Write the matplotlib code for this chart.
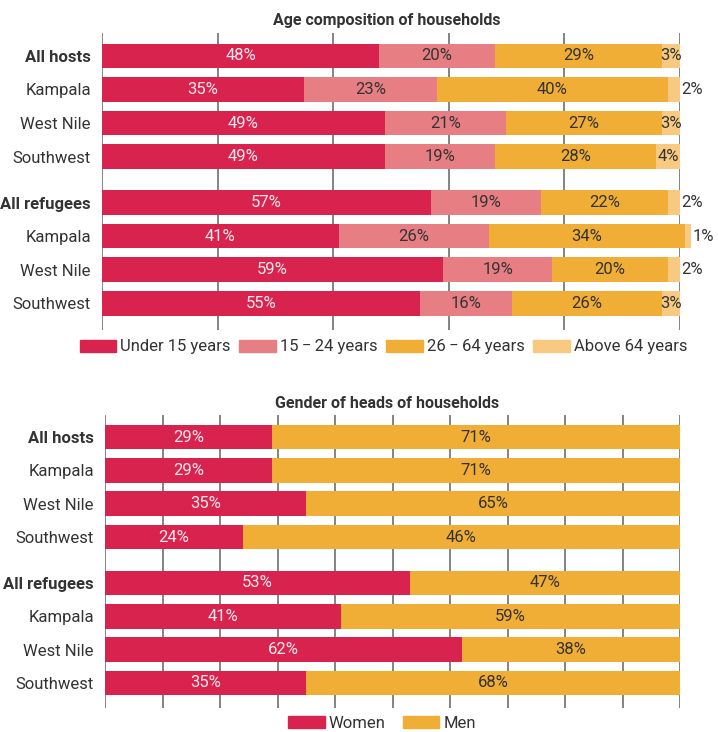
import matplotlib
matplotlib.use("Agg")
import matplotlib.pyplot as plt
from matplotlib.patches import Patch

plt.rcParams['font.family'] = ['Roboto', 'DejaVu Sans']

# ---------------- data ----------------
rows = ["All hosts", "Kampala", "West Nile", "Southwest",
        "All refugees", "Kampala", "West Nile", "Southwest"]
bold_rows = ["All hosts", "All refugees"]

age_series = ["Under 15 years", "15\u2009\u2212\u200924 years", "26\u2009\u2212\u200964 years", "Above 64 years"]
age_under15 = [48, 35, 49, 49, 57, 41, 59, 55]
age_15_24 = [20, 23, 21, 19, 19, 26, 19, 16]
age_26_64 = [29, 40, 27, 28, 22, 34, 20, 26]
age_above64 = [3, 2, 3, 4, 2, 1, 2, 3]

gender_series = ["Women", "Men"]
women = [29, 29, 35, 24, 53, 41, 62, 35]
men_labels = [71, 71, 65, 46, 47, 59, 38, 68]

# ---------------- style ----------------
C_RED = "#D8234F"
C_PINK = "#E77E83"
C_ORANGE = "#F1AE36"
C_LIGHT = "#F8CA81"
TXT_DARK = "#333333"
TXT_LIGHT = "#FBE9EC"
GRID = "#7a7a7a"

W, H = 718, 732
fig = plt.figure(figsize=(W / 100, H / 100), dpi=100)


def px_axes(left, right, top, bottom):
    return fig.add_axes([left / W, 1 - bottom / H, (right - left) / W, (bottom - top) / H])


positions = [0, 1, 2, 3, 4.37, 5.37, 6.37, 7.37]
FS = 12


def setup(ax, ticks, ylim):
    ax.set_xlim(0, 100)
    ax.set_ylim(*ylim)
    ax.set_xticks(ticks)
    ax.tick_params(axis='x', length=0, labelbottom=False)
    ax.tick_params(axis='y', length=0, pad=8, labelsize=FS, labelcolor=TXT_DARK)
    ax.set_yticks(positions)
    ax.set_yticklabels(rows)
    for lab in ax.get_yticklabels():
        if lab.get_text() in bold_rows:
            lab.set_fontweight('bold')
    for s in ax.spines.values():
        s.set_visible(False)
    ax.grid(axis='x', color=GRID, lw=1.3, zorder=0)
    ax.set_axisbelow(True)


# ---------------- top chart ----------------
ax1 = px_axes(102, 679.5, 33, 330)
setup(ax1, range(0, 101, 20), (7.37 + 0.80, -0.683))
bh = 0.74
segs = [(age_under15, C_RED), (age_15_24, C_PINK), (age_26_64, C_ORANGE), (age_above64, C_LIGHT)]
left = [0] * len(rows)
for k, (vals, col) in enumerate(segs):
    ax1.barh(positions, vals, left=left, height=bh, color=col, zorder=2, clip_on=False)
    for i, v in enumerate(vals):
        tc = TXT_LIGHT if k == 0 else TXT_DARK
        if k == 3 and v <= 2:
            ax1.annotate(f"{v}%", (left[i] + v, positions[i]), xytext=(1, 0),
                         textcoords='offset points', ha='left', va='center',
                         fontsize=FS, color=tc, zorder=3, annotation_clip=False)
        else:
            ax1.text(left[i] + v / 2, positions[i], f"{v}%", ha='center', va='center',
                     fontsize=FS, color=tc, zorder=3)
    left = [l + v for l, v in zip(left, vals)]

fig.text(387 / W, 1 - 20 / H, "Age composition of households", ha='center', va='center',
         fontsize=11.5, fontweight='bold', color=TXT_DARK)

handles1 = [Patch(color=c) for _, c in segs]
fig.legend(handles1, age_series, loc='center', bbox_to_anchor=(383.5 / W, 1 - 347 / H),
           ncol=4, frameon=False, fontsize=FS, handlelength=2.2, handleheight=0.75,
           handletextpad=0.25, columnspacing=0.5, labelcolor=TXT_DARK,
           borderpad=0.1)

# ---------------- bottom chart ----------------
ax2 = px_axes(105, 680, 415, 708)
setup(ax2, range(0, 101, 10), (7.37 + 0.75, -0.66))
ax2.barh(positions, women, height=bh, color=C_RED, zorder=2)
men_width = [100 - w for w in women]
ax2.barh(positions, men_width, left=women, height=bh, color=C_ORANGE, zorder=2)
for i in range(len(rows)):
    ax2.text(women[i] / 2, positions[i], f"{women[i]}%", ha='center', va='center',
             fontsize=FS, color=TXT_LIGHT, zorder=3)
    ax2.text(women[i] + men_width[i] / 2, positions[i], f"{men_labels[i]}%", ha='center',
             va='center', fontsize=FS, color=TXT_DARK, zorder=3)

fig.text(387 / W, 1 - 403 / H, "Gender of heads of households", ha='center', va='center',
         fontsize=11.5, fontweight='bold', color=TXT_DARK)

handles2 = [Patch(color=C_RED), Patch(color=C_ORANGE)]
fig.legend(handles2, gender_series, loc='center', bbox_to_anchor=(382 / W, 1 - 723 / H),
           ncol=2, frameon=False, fontsize=FS, handlelength=2.2, handleheight=0.75,
           handletextpad=0.25, columnspacing=1.0, labelcolor=TXT_DARK,
           borderpad=0.1)

fig.savefig("out.png", dpi=100)
